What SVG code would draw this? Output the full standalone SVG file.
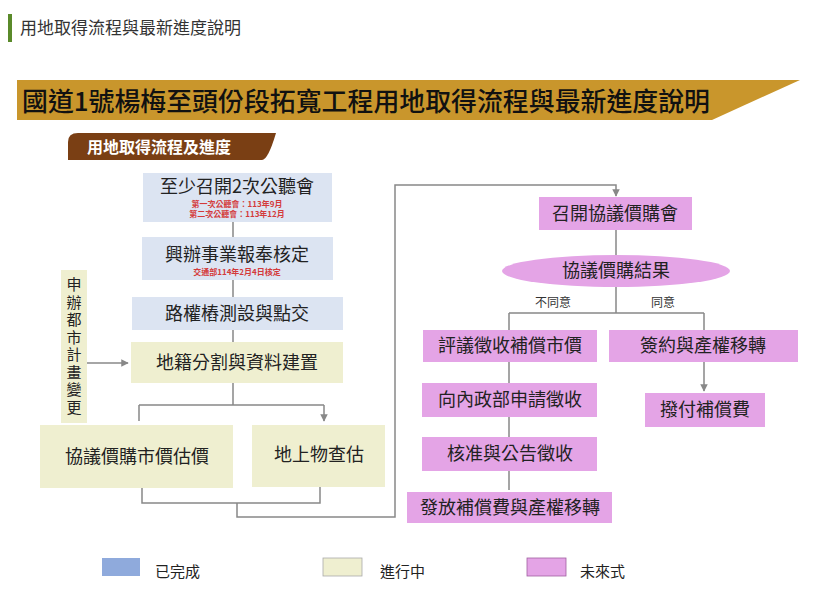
<svg xmlns="http://www.w3.org/2000/svg" width="835" height="598" viewBox="0 0 835 598">
<style>
text{font-family:"Noto Sans CJK TC","Noto Sans CJK SC",sans-serif;}
.b{fill:#dce4f2}.y{fill:#efefd0}.p{fill:#e4a4e6}
.t{font-size:18px;fill:#222;text-anchor:middle}
.r{font-size:8px;fill:#d43a3a;font-weight:bold;text-anchor:middle}
.l{fill:none;stroke:#888;stroke-width:1.5}
</style>
<defs><marker id="a" viewBox="0 0 10 10" refX="9" refY="5" markerWidth="5" markerHeight="5" orient="auto"><path d="M0,0L10,5L0,10z" fill="#888"/></marker></defs>
<rect x="8" y="14" width="4" height="28" fill="#5a8a2a"/>
<text x="20" y="34" font-size="17" fill="#333">用地取得流程與最新進度說明</text>
<polygon points="17,80 800,80 712,120 17,120" fill="#c9962c"/>
<text x="22" y="111" font-size="26" fill="#111" font-weight="500" textLength="688" lengthAdjust="spacingAndGlyphs">國道1號楊梅至頭份段拓寬工程用地取得流程與最新進度說明</text>
<path d="M68,160 V142 Q68,133 78,133 H276 Q268,160 262,160 Z" fill="#7a3f14"/>
<text x="87" y="153" font-size="16" fill="#fff" font-weight="bold">用地取得流程及進度</text>
<g id="connectors">
<path class="l" d="M233,222V237M233,280V297M233,330V342M233,383V405M139,405H324"/>
<path class="l" d="M139,405V421M324,405V421" marker-end="url(#a)"/>
<path class="l" d="M87,363H128" marker-end="url(#a)"/>
<path class="l" d="M142,488V503H320V487M237,503V517H395V185H616V196" marker-end="url(#a)"/>
<path class="l" d="M616,230V255M616,287V313M509,313H704M509,313V330M704,313V330M509,362V383M509,417V437"/>
<path class="l" d="M509,471V490M704,362V391" marker-end="url(#a)"/>
</g>
<g id="n1"><rect class="b" x="143" y="173" width="189" height="49"/><text class="t" x="237" y="193">至少召開2次公聽會</text><text class="r" x="237" y="207">第一次公聽會：113年9月</text><text class="r" x="237" y="217">第二次公聽會：113年12月</text></g>
<g id="n2"><rect class="b" x="142" y="237" width="191" height="43"/><text class="t" x="237" y="261">興辦事業報奉核定</text><text class="r" x="237" y="275">交通部114年2月4日核定</text></g>
<g id="n3"><rect class="b" x="132" y="297" width="211" height="33"/><text class="t" x="237" y="320">路權樁測設與點交</text></g>
<g id="n4"><rect class="y" x="131" y="342" width="212" height="41"/><text class="t" x="237" y="369">地籍分割與資料建置</text></g>
<g id="n5"><rect class="y" x="61" y="270" width="26" height="153"/>
<text x="74" y="277" font-size="15" fill="#222" style="writing-mode:vertical-rl" letter-spacing="2.5">申辦都市計畫變更</text></g>
<g id="n6"><rect class="y" x="40" y="425" width="193" height="63"/><text class="t" x="137" y="463">協議價購市價估價</text></g>
<g id="n7"><rect class="y" x="252" y="425" width="133" height="62"/><text class="t" x="319" y="461">地上物查估</text></g>
<g id="n8"><rect class="p" x="539" y="197" width="153" height="33"/><text class="t" x="615" y="220">召開協議價購會</text></g>
<g id="n9"><ellipse class="p" cx="616" cy="271" rx="114" ry="16"/><text class="t" x="616" y="277">協議價購結果</text></g>
<text x="553" y="307" font-size="12" fill="#333" text-anchor="middle">不同意</text>
<text x="663" y="307" font-size="12" fill="#333" text-anchor="middle">同意</text>
<g id="n10"><rect class="p" x="423" y="330" width="174" height="32"/><text class="t" x="510" y="352">評議徵收補償市價</text></g>
<g id="n11"><rect class="p" x="609" y="330" width="189" height="32"/><text class="t" x="703" y="352">簽約與產權移轉</text></g>
<g id="n12"><rect class="p" x="422" y="383" width="175" height="34"/><text class="t" x="510" y="406">向內政部申請徵收</text></g>
<g id="n13"><rect class="p" x="645" y="393" width="120" height="34"/><text class="t" x="705" y="416">撥付補償費</text></g>
<g id="n14"><rect class="p" x="422" y="437" width="175" height="34"/><text class="t" x="510" y="460">核准與公告徵收</text></g>
<g id="n15"><rect class="p" x="407" y="492" width="205" height="31"/><text class="t" x="510" y="514">發放補償費與產權移轉</text></g>
<g id="legend">
<rect x="102" y="558" width="38" height="18" fill="#8faadc"/><text x="155" y="577" font-size="15" fill="#222">已完成</text>
<rect x="323" y="558" width="39" height="18" fill="#efefd0" stroke="#aaa" stroke-width="0.8"/><text x="380" y="577" font-size="15" fill="#222">進行中</text>
<rect x="527" y="558" width="39" height="18" fill="#e4a4e6" stroke="#a060a0" stroke-width="0.8"/><text x="580" y="577" font-size="15" fill="#222">未來式</text>
</g>
</svg>
